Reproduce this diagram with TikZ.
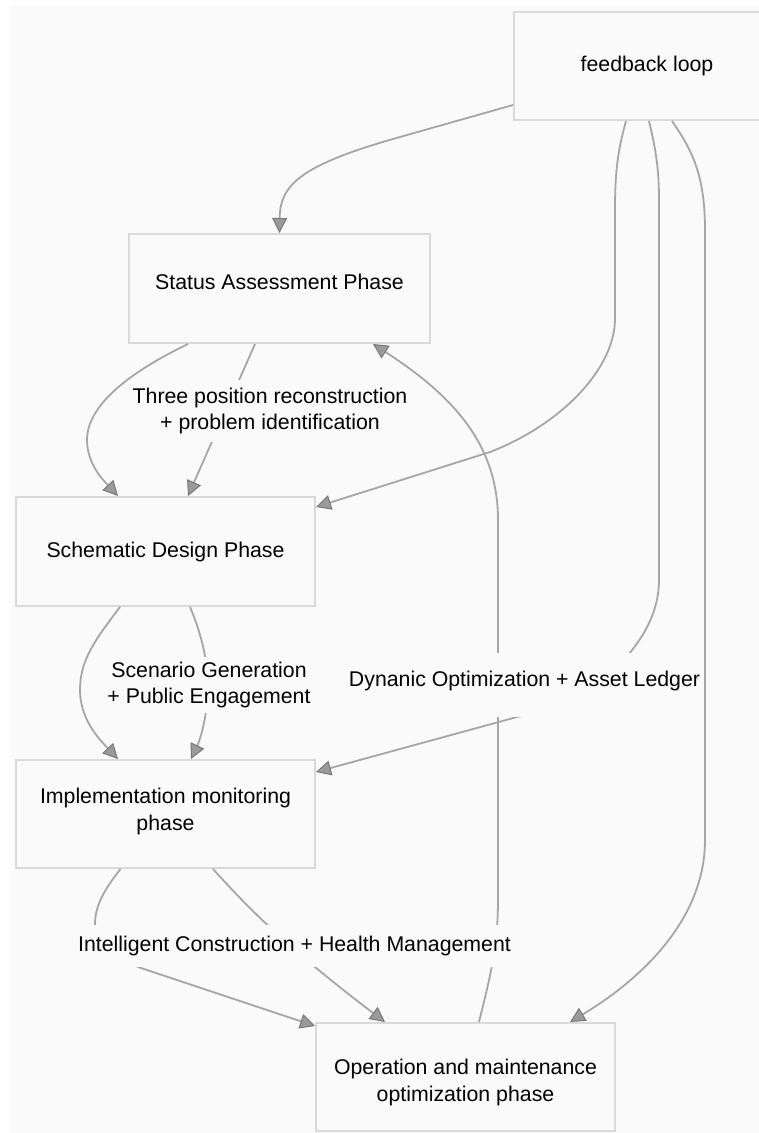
\documentclass[tikz,border=0pt]{standalone}
\usepackage{fontspec}
\setmainfont{Liberation Sans}
\usetikzlibrary{arrows.meta}
\definecolor{bgc}{HTML}{FAFAFA}
\definecolor{boxborder}{HTML}{D9D9D9}
\definecolor{edgecol}{HTML}{A6A6A6}
\definecolor{tipfill}{HTML}{9A9A9A}
\definecolor{tipdraw}{HTML}{787878}
\begin{document}
\begin{tikzpicture}[x=1pt,y=-1pt,
  phase/.style={draw=boxborder, line width=2pt, fill=bgc, minimum width=299pt,
    minimum height=108pt, inner sep=0pt, align=center,
    font=\fontsize{21.3pt}{26.5pt}\selectfont},
  elabel/.style={fill=bgc, inner xsep=2pt, inner ysep=0pt, align=center,
    font=\fontsize{21.3pt}{26.5pt}\selectfont},
  flow/.style={draw=edgecol, line width=1.8pt,
    -{Triangle[length=15pt,width=15pt,fill=tipfill,color=tipdraw,line width=1pt]}}
]
\useasboundingbox (0,0) rectangle (759,1133);
\fill[white] (0,0) rectangle (759,1133);
\fill[bgc] (11,6) rectangle (759,1133);

% phase boxes
\node[phase, minimum width=266pt] (fb) at (647,66) {feedback loop\rule[-2pt]{0pt}{2pt}};
\node[phase, minimum width=301pt, minimum height=109pt] (sa) at (279.5,288.5) {Status Assessment Phase\rule[-13pt]{0pt}{13pt}};
\node[phase, minimum height=109pt] (sd) at (165.5,551.5) {Schematic Design Phase};
\node[phase] (im) at (165.5,814) {Implementation monitoring\\phase\rule[-9pt]{0pt}{9pt}};
\node[phase] (op) at (465.5,1077) {\rule{0pt}{26pt}Operation and maintenance\\optimization phase};

% feedback loop -> Status Assessment
\draw[flow] ([yshift=16pt]fb.south west) -- (400,137) .. controls (300,165) and (280,185) .. (sa.north);

% Status -> Schematic (unlabelled and labelled)
\draw[flow] ([xshift=-91.5pt]sa.south) .. controls (130,372) and (87,405) .. (87,440)
  .. controls (87,465) and (105,482) .. ([xshift=-47.5pt]sd.north);
\draw[flow] ([xshift=-24.5pt]sa.south) -- ([xshift=22.5pt]sd.north);

% feedback loop -> Schematic
\draw[flow] ([xshift=-21pt]fb.south) .. controls (618,150) and (615,170) .. (615,210)
  -- (615,320) .. controls (614,370) and (560,425) .. (490,452)
  -- ([yshift=-11pt]sd.north east);

% feedback loop -> Implementation (labelled)
\draw[flow] ([xshift=2pt]fb.south) .. controls (656,150) and (659,170) .. (659,200)
  -- (659,580) .. controls (659,610) and (645,635) .. (628,655)
  .. controls (600,690) and (560,708) .. (517,717)
  -- ([yshift=-13pt]im.north east);

% Operation -> Status
\draw[flow] ([xshift=13.5pt]op.north) .. controls (488,985) and (498,950) .. (498,900)
  -- (498,520) .. controls (498,450) and (460,400) .. ([xshift=93.5pt]sa.south);

% feedback loop -> Operation
\draw[flow] ([xshift=25pt]fb.south) .. controls (692,150) and (705,175) .. (705,230)
  -- (705,840) .. controls (705,920) and (640,980) .. ([xshift=104.5pt]op.north);

% Schematic -> Implementation (unlabelled and labelled)
\draw[flow] ([xshift=-45.5pt]sd.south) .. controls (95,640) and (80,660) .. (80,690)
  .. controls (80,720) and (100,740) .. ([xshift=-47.5pt]im.north);
\draw[flow] ([xshift=24.5pt]sd.south) .. controls (200,630) and (208,660) .. (208,685)
  .. controls (208,715) and (200,740) .. ([xshift=25.5pt]im.north);

% Implementation -> Operation (unlabelled and labelled)
\draw[flow] ([xshift=-45pt]im.south) .. controls (100,895) and (94,910) .. (95,930)
  .. controls (97,955) and (120,960) .. (141,968) -- ([yshift=-4pt]op.north west);
\draw[flow] ([xshift=47.5pt]im.south) .. controls (250,910) and (290,950) .. ([xshift=-80.5pt]op.north);

% edge labels
\node[elabel, minimum height=62pt] (l1) at (270,411) {Three position reconstruction\\+ problem identification};
\node[elabel, minimum height=56pt] (l2) at (209,685) {Scenario Generation\\+ Public Engagement};
\node[elabel, minimum height=42pt] (l3) at (294.5,946) {Intelligent Construction + Health Management};
\node[elabel, text height=33pt, text depth=31pt] (l4) at (524.5,685) {Dynanic Optimization + Asset Ledger};
\end{tikzpicture}
\end{document}
